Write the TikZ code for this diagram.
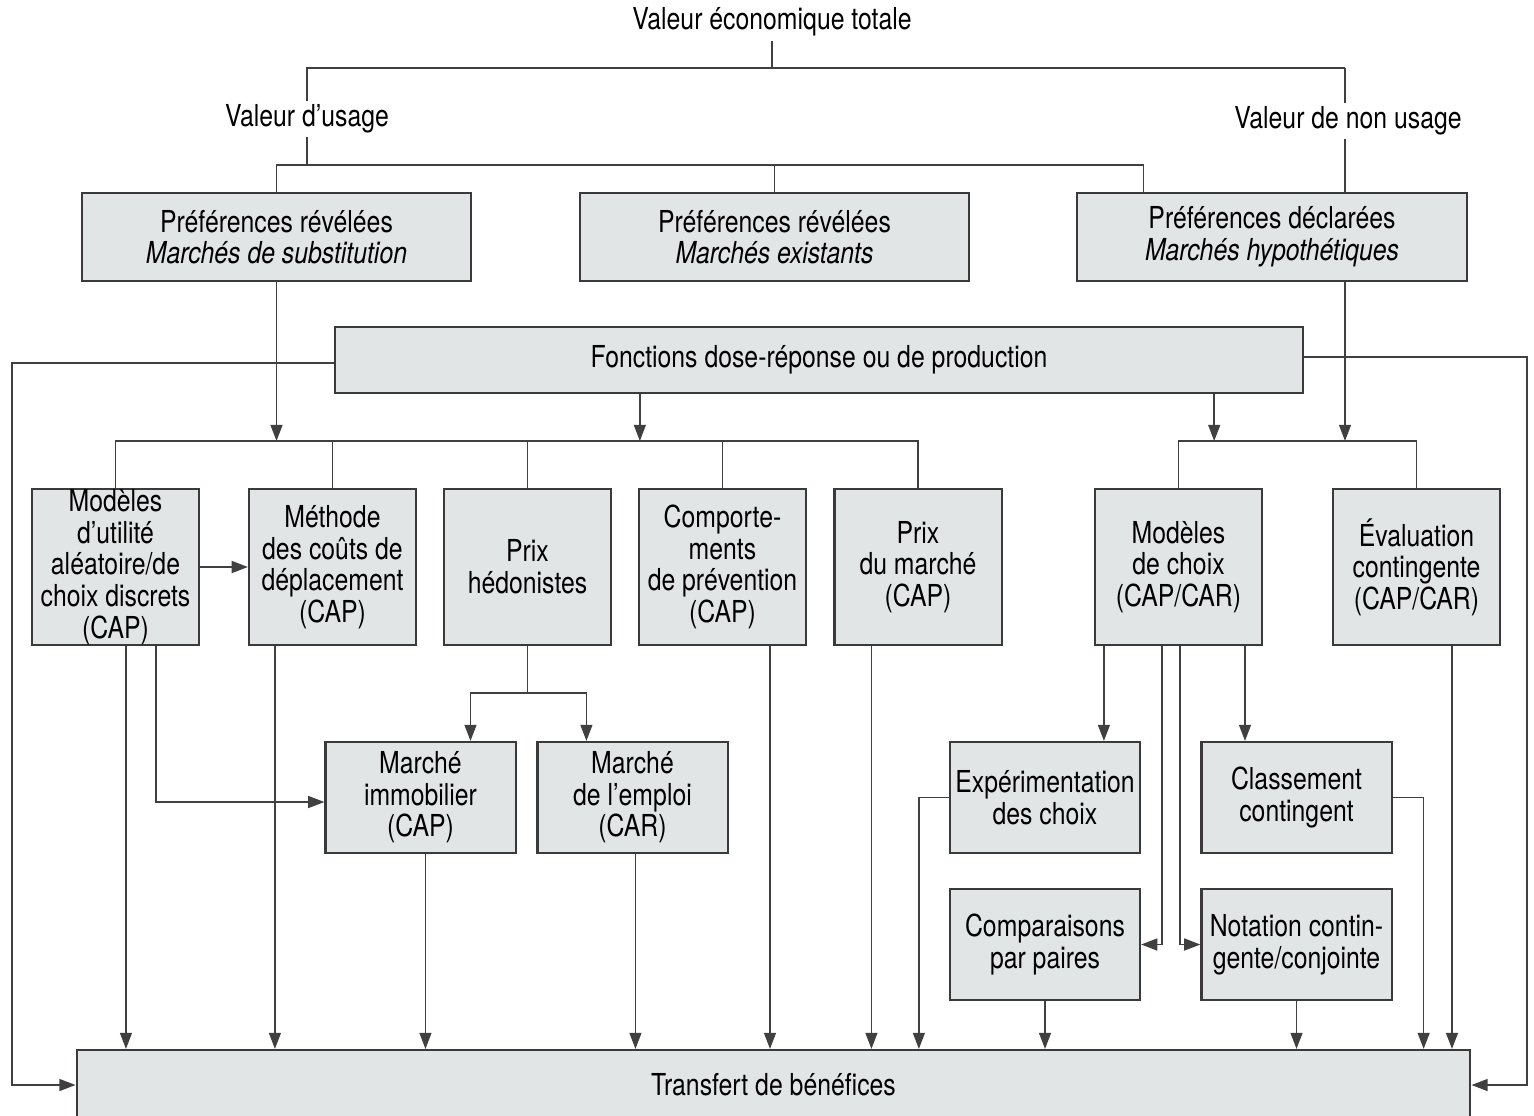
\documentclass[tikz,border=0pt]{standalone}
\usepackage{fontspec}
\setmainfont{TeX Gyre Heros}[FakeStretch=0.82]
\usetikzlibrary{arrows.meta,backgrounds}
\definecolor{boxgray}{HTML}{E2E5E5}
\definecolor{edgegray}{HTML}{3A3A3A}
\definecolor{linkgray}{HTML}{404040}
\begin{document}
\begin{tikzpicture}[x=0.01cm, y=-0.01cm,
        box/.style={draw=edgegray, line width=0.6pt, fill=boxgray, align=center, inner sep=0pt, font=\fontsize{8.6}{9}\selectfont},
        pref/.style={box, minimum width=3.89cm, minimum height=0.88cm},
        meth/.style={box, minimum width=1.67cm, minimum height=1.56cm},
        sub/.style={box, minimum width=1.9cm, minimum height=1.11cm},
        lbl/.style={fill=white, inner sep=1pt, font=\fontsize{8.6}{9}\selectfont},
        link/.style={draw=linkgray, line width=0.45pt},
        arr/.style={link, -{Triangle[length=4.6pt, width=3.4pt]}}]
    \useasboundingbox (0,0) rectangle (1534,1115);
    % value tree
    \node [lbl] (vet) at (772,22) {Valeur économique totale};
    \node [lbl] (vu) at (307,119) {Valeur d'usage};
    \node [lbl] (vnu) at (1348,121) {Valeur de non usage};
    \node [pref] (prs) at (276.5,237) {Préférences révélées\\\textit{Marchés de substitution}};
    \node [pref] (pre) at (774.5,237) {Préférences révélées\\\textit{Marchés existants}};
    \node [pref] (pdh) at (1272,237) {Préférences déclarées\\\textit{Marchés hypothétiques}};
    \node [box, minimum width=9.68cm, minimum height=0.66cm] (fdr) at (819,360) {Fonctions dose-réponse ou de production};
    % methods
    \node [meth] (mua) at (115.5,567) {Modèles\\d'utilité\\aléatoire/de\\choix discrets\\(CAP)};
    \node [meth] (mcd) at (332.5,567) {Méthode\\des coûts de\\déplacement\\(CAP)};
    \node [meth] (mph) at (527.5,567) {Prix\\hédonistes};
    \node [meth] (mcp) at (722.5,567) {Comporte-\\ments\\de prévention\\(CAP)};
    \node [meth] (mpm) at (918,567) {Prix\\du marché\\(CAP)};
    \node [meth] (mch) at (1178.5,567) {Modèles\\de choix\\(CAP/CAR)};
    \node [meth] (mec) at (1416.5,567) {Évaluation\\contingente\\(CAP/CAR)};
    \node [sub] (mim) at (420.5,797.5) {Marché\\immobilier\\(CAP)};
    \node [sub] (mem) at (632.5,797.5) {Marché\\de l'emploi\\(CAR)};
    \node [sub] (ech) at (1045,797.5) {Expérimentation\\des choix};
    \node [sub] (ccl) at (1296.5,797.5) {Classement\\contingent};
    \node [sub] (cpp) at (1045,944.5) {Comparaisons\\par paires};
    \node [sub] (nco) at (1296.5,944.5) {Notation contin-\\gente/conjointe};
    \node [box, minimum width=13.93cm, minimum height=0.7cm] (tb) at (773.5,1085) {Transfert de bénéfices};
    \coordinate (tl) at (307,68);
    \coordinate (tr) at (1345,68);
    \coordinate (pbar) at (0,165);
    \coordinate (lbar) at (0,441);
    \coordinate (hbar) at (0,693);
    \coordinate (lx) at (12,0);
    \coordinate (rx) at (1527,0);
    \coordinate (ps) at ([xshift=0.67cm]pdh.north west);
    \coordinate (fa) at ([xshift=3.06cm]fdr.south west);
    \coordinate (fb) at ([xshift=8.8cm]fdr.south west);
    \coordinate (fw) at ([yshift=-0.03cm]fdr.west);
    \coordinate (fe) at ([yshift=0.03cm]fdr.east);
    \coordinate (d1) at ([xshift=0.95cm]mua.south west);
    \coordinate (d2) at ([xshift=1.25cm]mua.south west);
    \coordinate (d3) at ([xshift=0.27cm]mcd.south west);
    \coordinate (d4) at ([xshift=1.01cm]mim.south west);
    \coordinate (d5) at ([xshift=0.99cm]mem.south west);
    \coordinate (d6) at ([xshift=1.32cm]mcp.south west);
    \coordinate (d7) at ([xshift=0.38cm]mpm.south west);
    \coordinate (d8) at ([xshift=1.2cm]mec.south west);
    \coordinate (mw) at ([yshift=-0.045cm]mim.west);
    \coordinate (ha) at ([xshift=1.46cm]mim.north west);
    \coordinate (hb) at ([xshift=0.5cm]mem.north west);
    \coordinate (c1) at ([xshift=0.1cm]mch.south west);
    \coordinate (c2) at ([xshift=0.68cm]mch.south west);
    \coordinate (c3) at ([xshift=0.86cm]mch.south west);
    \coordinate (c4) at ([xshift=1.51cm]mch.south west);
    \coordinate (el) at ([xshift=-0.3cm]ech.west);
    \coordinate (cr) at ([xshift=0.31cm]ccl.east);
    \begin{scope}[on background layer]
        % top of the tree
        \draw [link] (vet.south) -- (vet.south |- tl);
        \draw [link] (tl |- pbar) -- (tl) -- (tr);
        \draw [arr] (tr) -- (tr |- lbar);
        \draw [link] (prs.north) -- (prs.north |- pbar) -| (ps);
        \draw [link] (pre.north) -- (pre.north |- pbar);
        % into the two brackets
        \draw [arr] (prs.south) -- (prs.south |- lbar);
        \draw [arr] (fa) -- (fa |- lbar);
        \draw [arr] (fb) -- (fb |- lbar);
        \draw [link] (mua.north) -- (mua.north |- lbar) -| (mpm.north);
        \foreach \m in {mcd,mph,mcp}
            \draw [link] (\m.north) -- (\m.north |- lbar);
        \draw [link] (mch.north) -- (mch.north |- lbar) -| (mec.north);
        % round the sides
        \draw [arr] (fw) -| (lx |- tb.west) -- (tb.west);
        \draw [arr] (fe) -| (rx |- tb.east) -- (tb.east);
        \draw [arr] (mua.east) -- (mcd.west);
        \draw [arr] (d2) |- (mw);
        \draw [link] (mph.south) -- (mph.south |- hbar);
        \draw [arr] (mph.south |- hbar) -| (ha);
        \draw [arr] (mph.south |- hbar) -| (hb);
        \draw [arr] (c1) -- (c1 |- ech.north);
        \draw [arr] (c4) -- (c4 |- ccl.north);
        \draw [arr] (c2) |- (cpp.east);
        \draw [arr] (c3) |- (nco.west);
        \draw [arr] (ech.west) -- (el) -- (el |- tb.north);
        \draw [arr] (ccl.east) -- (cr) -- (cr |- tb.north);
        % down to the transfer
        \foreach \d in {d1,d3,d4,d5,d6,d7,d8,cpp.south,nco.south}
            \draw [arr] (\d) -- (\d |- tb.north);
    \end{scope}
\end{tikzpicture}
\end{document}
